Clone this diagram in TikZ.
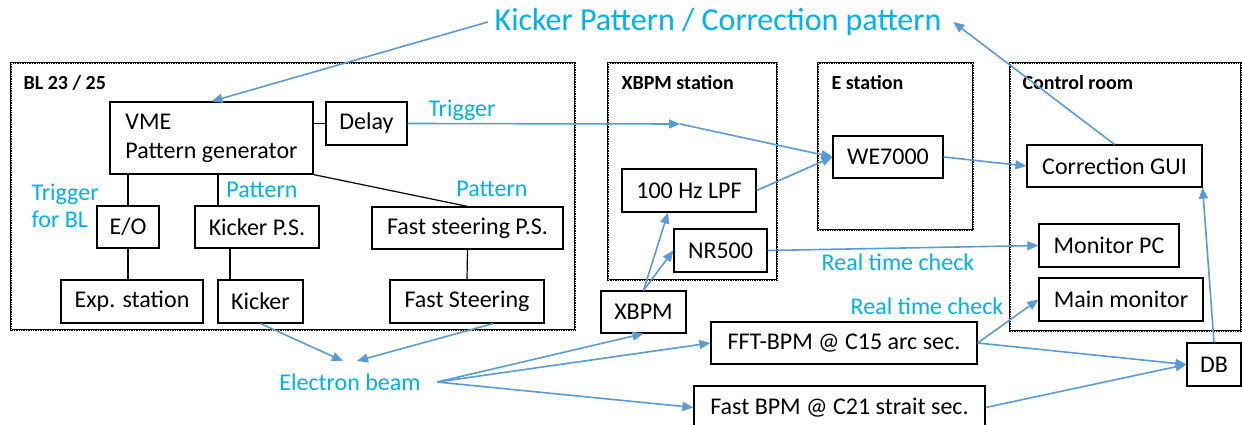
\documentclass[tikz,border=0pt]{standalone}
\usepackage{fontspec}
\setmainfont{Carlito}
\usepackage{xcolor}
\usetikzlibrary{arrows.meta}
\definecolor{textblue}{HTML}{00B0F0}
\definecolor{lineblue}{HTML}{5B9BD5}
\tikzset{every picture/.style={line width=1.2pt}}
\tikzset{
  box/.style={draw, inner sep=0pt, minimum height=43pt, font=\fontsize{24}{29}\selectfont},
  group/.style={draw, line width=2.8pt, postaction={draw=white, line width=0.6pt, dash pattern=on 0.6pt off 1.8pt}},
  grouplabel/.style={anchor=west, inner sep=1pt, font=\fontsize{20}{24}\selectfont\bfseries},
  bluelabel/.style={text=textblue, inner sep=2pt, font=\fontsize{24}{29}\selectfont},
  arr/.style={draw=lineblue, line width=1.6pt, -{Triangle[length=11pt,width=9pt]}}
}

\begin{document}
\begin{tikzpicture}[x=1pt,y=-1pt]
\useasboundingbox (0,0) rectangle (1242,425);
\draw [group] (11,63) rectangle (575,330);
\draw [group] (608,63) rectangle (777,280);
\draw [group] (818,63) rectangle (973,230);
\draw [group] (1010,63) rectangle (1241,331);
\node [grouplabel] (bl) at (22,83) {BL 23 / 25};
\node [grouplabel] (xst) at (620,83) {XBPM station};
\node [grouplabel] (est) at (830,83) {E station};
\node [grouplabel] (ctrl) at (1021,83) {Control room};

\node [text=textblue, font=\fontsize{32}{38}\selectfont] (title) at (718,22) {Kicker Pattern / Correction pattern};

\node [box, minimum width=203pt, minimum height=72pt, align=left] (vme) at (211.5,138) {VME\\Pattern generator};
\node [box, minimum width=81pt] (delay) at (366.5,123.5) {Delay};
\node [box, minimum width=62pt, minimum height=42pt] (eo) at (128,227) {E/O};
\node [box, minimum width=124pt, minimum height=42pt] (kps) at (257,227) {Kicker P.S.};
\node [box, minimum width=191pt, minimum height=42pt] (fsps) at (467.5,228) {Fast steering P.S.};
\node [box, minimum width=142pt] (exp) at (132,301.5) {Exp. station};
\node [box, minimum width=85pt] (kick) at (260.5,301.5) {Kicker};
\node [box, minimum width=154pt] (fs) at (467,301.5) {Fast Steering};

\node [box, minimum width=134pt] (lpf) at (689,190.5) {100 Hz LPF};
\node [box, minimum width=93pt] (nr) at (720.5,250.5) {NR500};
\node [box, minimum width=110pt, minimum height=42pt] (we) at (888,157) {WE7000};
\node [box, minimum width=175pt, minimum height=42pt] (gui) at (1114.5,166) {Correction GUI};
\node [box, minimum width=140pt] (monpc) at (1109,245.5) {Monitor PC};
\node [box, minimum width=164pt] (mainmon) at (1121,299.5) {Main monitor};
\node [box, minimum width=85pt, minimum height=42pt] (xbpm) at (643.5,312) {XBPM};
\node [box, minimum width=266pt, minimum height=42pt] (fft) at (844,343) {FFT-BPM @ C15 arc sec.};
\node [box, minimum width=291pt] (fbpm) at (839.5,407.5) {Fast BPM @ C21 strait sec.};
\node [box, minimum width=54pt] (db) at (1214,364.5) {DB};

\node [bluelabel] (trig) at (462,110) {Trigger};
\node [bluelabel, anchor=west, align=left, font=\fontsize{24}{27}\selectfont] (trigbl) at (29,206) {Trigger\\for BL};
\node [bluelabel] (pat1) at (262,190) {Pattern};
\node [bluelabel] (pat2) at (492,189) {Pattern};
\node [bluelabel] (rtc1) at (898,262) {Real time check};
\node [bluelabel] (rtc2) at (927,306) {Real time check};
\node [bluelabel, inner xsep=16pt, inner ysep=12pt] (ebeam) at (350,382) {Electron beam};

\coordinate (kpstop) at ([xshift=-39pt]kps.north);
\coordinate (kicktop) at ([xshift=-30.5pt]kick.north);
\coordinate (trigmid) at (680,124);

\draw (vme.east |- delay.west) -- (delay.west);
\draw (eo.north |- vme.south) -- (eo.north);
\draw (kpstop |- vme.south) -- (kpstop);
\draw (vme.south east) -- (fsps.north);
\draw (eo.south) -- (eo.south |- exp.north);
\draw (kicktop |- kps.south) -- (kicktop);
\draw (fsps.south) -- (fs.north);

\draw [arr] ([xshift=-3pt]title.west) -- (vme.north);
\draw [arr] (gui.north) -- ([xshift=8pt]title.east);
\draw [arr] (delay.east) -- (trigmid);
\draw [arr] (trigmid) -- (we.west);
\draw [arr] (lpf.east) -- (we.west);
\draw [arr] (we.east) -- (gui.west);
\draw [arr] (xbpm.north) -- ([xshift=-21pt]lpf.south);
\draw [arr] (xbpm.north) -- (nr.west);
\draw [arr] (nr.east) -- (monpc.west);
\draw [arr] (kick.south) -- ([xshift=-7pt]ebeam.north);
\draw [arr] ([xshift=26pt]fs.south) -- ([xshift=7pt]ebeam.north);
\draw [arr] (ebeam.east) -- (xbpm.south);
\draw [arr] (ebeam.east) -- (fft.west);
\draw [arr] (ebeam.east) -- (fbpm.west);
\draw [arr] (fft.east) -- (mainmon.west);
\draw [arr] (fft.east) -- (db.west);
\draw [arr] (fbpm.east) -- (db.west);
\draw [arr] (db.north) -- (gui.south east);
\end{tikzpicture}
\end{document}
